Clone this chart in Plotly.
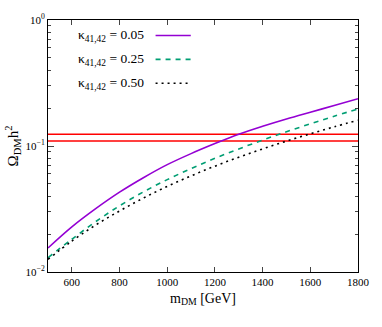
import plotly.graph_objects as go

m_dm = [500, 600, 700, 800, 900, 1000, 1100, 1200, 1300, 1400, 1500, 1600, 1700, 1800]
omega_k005 = [0.0155, 0.0228, 0.0318, 0.0430, 0.0560, 0.0711, 0.0870, 0.1045, 0.1240, 0.1435, 0.1640, 0.1855, 0.2095, 0.2370]
omega_k025 = [0.0130, 0.0182, 0.0251, 0.0335, 0.0432, 0.0541, 0.0662, 0.0798, 0.0948, 0.1114, 0.1297, 0.1500, 0.1722, 0.1968]
omega_k050 = [0.0126, 0.0176, 0.0236, 0.0305, 0.0386, 0.0478, 0.0579, 0.0692, 0.0815, 0.0948, 0.1094, 0.1250, 0.1419, 0.1603]
planck_band = [0.1240, 0.1097]
band_x = [500, 1800]
labels = ["κ<sub>41,42</sub> = 0.05", "κ<sub>41,42</sub> = 0.25", "κ<sub>41,42</sub> = 0.50"]
colors = ["#9400D3", "#009E73", "#000000"]
dashes = ["solid", "5px,5px", "2px,4px"]
x_ticks = [600, 800, 1000, 1200, 1400, 1600, 1800]
y_major = [0.01, 0.1, 1]
y_major_text = ["10<sup>−2</sup>", "10<sup>−1</sup>", "10<sup>0</sup>"]
y_minor = [k * 10 ** e for e in (-2, -1) for k in range(2, 10)]

FONT = "Liberation Serif"
fig = go.Figure()
for y in planck_band:
    fig.add_trace(go.Scatter(x=band_x, y=[y, y], mode="lines",
                             line=dict(color="#FF0000", width=1.6), showlegend=False, hoverinfo="skip"))
for ys, c, d in zip([omega_k005, omega_k025, omega_k050], colors, dashes):
    fig.add_trace(go.Scatter(x=m_dm, y=ys, mode="lines", line=dict(color=c, width=1.6, dash=d, shape="spline"),
                             showlegend=False))

fig.update_layout(
    width=382, height=327,
    margin=dict(l=45, r=20, t=13, b=55),
    plot_bgcolor="white", paper_bgcolor="white",
    font=dict(family=FONT, size=11, color="black"),
    xaxis=dict(range=[500, 1800], tickvals=x_ticks, ticks="inside", ticklen=5, mirror="ticks",
               showline=True, linecolor="black", linewidth=1, showgrid=False, zeroline=False,
               tickfont=dict(size=11),
               title=dict(text="m<sub>DM</sub> [GeV]", font=dict(size=14), standoff=5)),
    yaxis=dict(type="log", range=[-2, 0], tickvals=y_major, ticktext=y_major_text, ticks="inside",
               ticklen=6, mirror="ticks", showline=True, linecolor="black", linewidth=1,
               showgrid=False, zeroline=False, tickfont=dict(size=11),
               minor=dict(tickvals=y_minor, ticks="inside", ticklen=3, showgrid=False),
               title=dict(text="Ω<sub>DM</sub>h<sup>2</sup>", font=dict(size=15), standoff=3)),
)

legend_y = [29, 53.5, 78]
for lab, c, d, yy in zip(labels, colors, dashes, legend_y):
    yp = 1 - (yy - 13) / (272 - 13)
    fig.add_annotation(x=(145 - 45) / (362 - 45), y=yp, xref="paper", yref="paper", text=lab,
                       showarrow=False, xanchor="right", yanchor="middle", font=dict(size=13.5, family=FONT))
    fig.add_shape(type="line", xref="paper", yref="paper",
                  x0=(155 - 45) / (362 - 45), x1=(191 - 45) / (362 - 45), y0=yp, y1=yp,
                  line=dict(color=c, width=1.6, dash=d))

fig.write_html("out.html", config={"displayModeBar": False},
               post_script="document.body.style.margin='0';")
